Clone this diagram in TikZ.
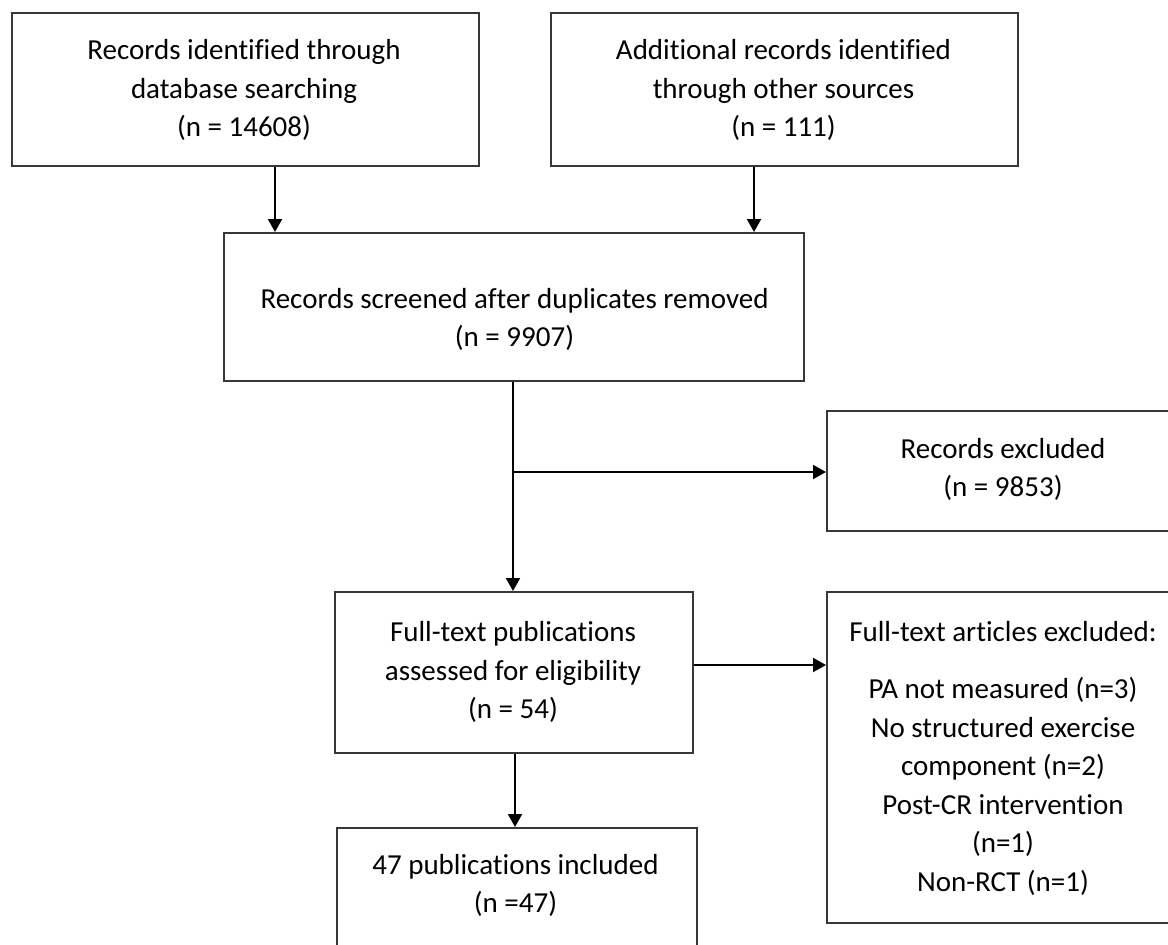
\documentclass[tikz,border=0pt]{standalone}
\usepackage{fontspec}
\setmainfont{Carlito}[Ligatures={CommonOff,ContextualOff}]
\usetikzlibrary{arrows.meta}
\begin{document}
\begin{tikzpicture}[x=1pt,y=-1pt,
  box/.style={draw=black!78, line width=2pt, rectangle, inner sep=0pt},
  txt/.style={align=center, font=\fontsize{29}{38.5}\selectfont, inner sep=0pt, text=black},
  arr/.style={draw=black, line width=2pt, -{Triangle[length=13pt,width=14pt]}}]
\clip (0,0) rectangle (1168,945);
\fill[white] (0,0) rectangle (1168,945);
% boxes
\node[box, minimum width=467pt, minimum height=153pt] (b1) at (245.5,89.5) {};
\node[box, minimum width=467pt, minimum height=153pt] (b2) at (784.5,89.5) {};
\node[box, minimum width=580pt, minimum height=148pt] (b3) at (514,307) {};
\node[box, minimum width=353pt, minimum height=120pt] (b4) at (1003.5,471) {};
\node[box, minimum width=358pt, minimum height=161pt] (b5) at (514,672.5) {};
\node[box, minimum width=353pt, minimum height=331pt] (b6) at (1003.5,757.5) {};
\node[box, minimum width=360pt, minimum height=144pt] (b7) at (517,900) {};
% texts
\node[txt] (t1) at (244,90) {Records identified through\\database searching\\(n = 14608)};
\node[txt] (t2) at (783.5,90) {Additional records identified\\through other sources\\(n = 111)};
\node[txt] (t3) at (514.5,319.5) {Records screened after duplicates removed\\(n = 9907)};
\node[txt] (t4) at (1003,469.5) {Records excluded\\(n = 9853)};
\node[txt] (t5) at (513,672) {Full-text publications\\assessed for eligibility\\(n = 54)};
\node[txt] (t6) at (1003,758.5) {Full-text articles excluded:\\[18.5pt]PA not measured (n=3)\\No structured exercise\\component (n=2)\\Post-CR intervention\\(n=1)\\Non-RCT (n=1)};
\node[txt] (t7) at (515.5,885.5) {47 publications included\\(n =47)};
% connector helpers
\coordinate (x1) at (275,0);
\coordinate (x2) at (754,0);
\coordinate (j) at (513,472);
\coordinate (y5) at (0,665);
\coordinate (x6) at (515,0);
% connectors
\draw[arr] (b1.south -| x1) -- (b3.north -| x1);
\draw[arr] (b2.south -| x2) -- (b3.north -| x2);
\draw[arr] (b3.south -| j) -- (b5.north -| j);
\draw[arr] (j) -- (b4.west |- j);
\draw[arr] (b5.east |- y5) -- (b6.west |- y5);
\draw[arr] (b5.south -| x6) -- (b7.north -| x6);
\end{tikzpicture}
\end{document}
